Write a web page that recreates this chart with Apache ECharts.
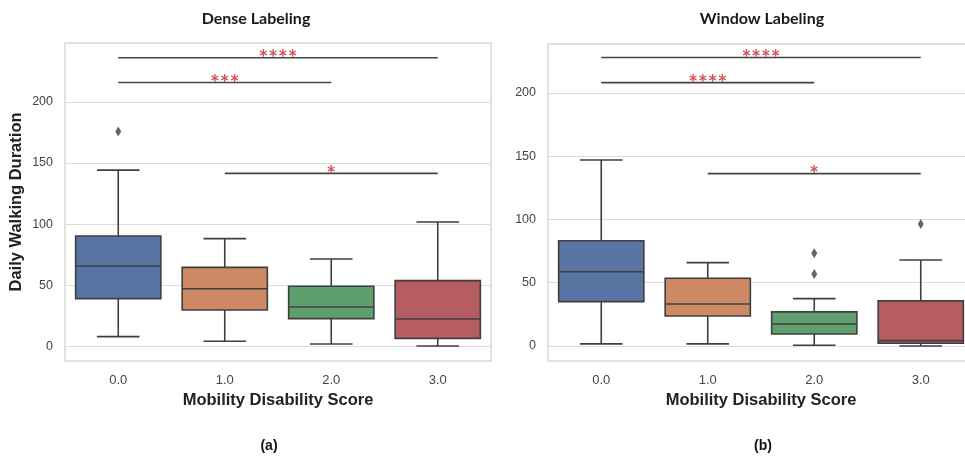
<!DOCTYPE html>
<html><head><meta charset="utf-8">
<script src="https://cdn.jsdelivr.net/npm/echarts@6/dist/echarts.min.js"></script>
<style>html,body{margin:0;padding:0;background:#fff;overflow:hidden}#c{width:980px;height:456px}</style>
</head><body><div id="c"></div>
<script>
const categories = ['0.0', '1.0', '2.0', '3.0'];
// [min, Q1, median, Q3, max]
const denseBoxes = [[8.2, 39.2, 65.9, 90.4, 144.2], [4.4, 30, 47.3, 64.8, 88.2], [2.2, 22.9, 32.4, 49.3, 71.6], [0.6, 6.8, 22.6, 53.9, 101.8]];
const denseOutliers = [[0, 175.8]];
const windowBoxes = [[1.6, 35, 58.7, 83.2, 147], [1.6, 23.7, 33.2, 53.5, 65.9], [0.5, 9.5, 17.4, 26.9, 37.4], [0, 2.1, 4.2, 35.6, 68]];
const windowOutliers = [[2, 73.3], [2, 56.9], [3, 96.4]];
// [from, to, y, stars]
const denseSig = [[0, 3, 236, '****'], [0, 2, 215.8, '***'], [1, 3, 141.5, '*']];
const windowSig = [[0, 3, 228, '****'], [0, 2, 208.2, '****'], [1, 3, 136.2, '*']];
const yTicksShown = [0, 50, 100, 150, 200];

const boxColors = ['#5875a4', '#cc8963', '#5f9e6e', '#b55d60'];
const edge = '#3f3f3f';
const sans = "'Liberation Sans', Arial, sans-serif";
const humanist = "Lato, 'Open Sans', sans-serif";

function boxSeries(boxes, idx) {
  return {
    type: 'custom', xAxisIndex: idx, yAxisIndex: idx,
    data: boxes.map((b, i) => [i].concat(b)),
    encode: { x: 0, y: [1, 2, 3, 4, 5] },
    renderItem: function (params, api) {
      const i = api.value(0);
      const band = api.size([1, 0])[0];
      const bw = band * 0.8, cw = bw / 2;
      const pMin = api.coord([i, api.value(1)]);
      const pQ1 = api.coord([i, api.value(2)]);
      const pMed = api.coord([i, api.value(3)]);
      const pQ3 = api.coord([i, api.value(4)]);
      const pMax = api.coord([i, api.value(5)]);
      const x = pMed[0];
      const ls = { stroke: edge, lineWidth: 1.6 };
      return {
        type: 'group', children: [
          { type: 'line', shape: { x1: x, y1: pQ3[1], x2: x, y2: pMax[1] }, style: ls },
          { type: 'line', shape: { x1: x, y1: pQ1[1], x2: x, y2: pMin[1] }, style: ls },
          { type: 'line', shape: { x1: x - cw / 2, y1: pMax[1], x2: x + cw / 2, y2: pMax[1] }, style: ls },
          { type: 'line', shape: { x1: x - cw / 2, y1: pMin[1], x2: x + cw / 2, y2: pMin[1] }, style: ls },
          { type: 'rect', shape: { x: x - bw / 2, y: pQ3[1], width: bw, height: pQ1[1] - pQ3[1] }, style: { fill: boxColors[i], stroke: edge, lineWidth: 1.6 } },
          { type: 'line', shape: { x1: x - bw / 2, y1: pMed[1], x2: x + bw / 2, y2: pMed[1] }, style: ls }
        ]
      };
    }
  };
}

function sigSeries(sig, idx) {
  return {
    type: 'custom', xAxisIndex: idx, yAxisIndex: idx, z: 5,
    data: sig.map(s => [s[0], s[1], s[2]]),
    encode: { x: [0, 1], y: 2 },
    renderItem: function (params, api) {
      const a = api.coord([api.value(0), api.value(2)]);
      const b = api.coord([api.value(1), api.value(2)]);
      const txt = sig[params.dataIndex][3];
      return {
        type: 'group', children: [
          { type: 'line', shape: { x1: a[0], y1: a[1], x2: b[0], y2: b[1] }, style: { stroke: '#444', lineWidth: 1.6 } },
          { type: 'text', style: { text: txt, x: (a[0] + b[0]) / 2, y: a[1] + 1, textAlign: 'center', textVerticalAlign: 'middle', fill: '#d0545a', font: 'bold 23px ' + humanist } }
        ]
      };
    }
  };
}

function outlierSeries(data, idx) {
  return {
    type: 'scatter', xAxisIndex: idx, yAxisIndex: idx, data: data,
    symbol: 'diamond', symbolSize: [6, 10], itemStyle: { color: edge }, z: 4
  };
}

const grids = [
  { left: 65, top: 43, width: 426, height: 318 },
  { left: 548, top: 44, width: 426, height: 317 }
];
const yRanges = [[-11.7, 248], [-11.9, 238.7]];

const option = {
  animation: false,
  grid: grids.map(g => Object.assign({ show: true, borderColor: '#d9d9d9', borderWidth: 1.5, backgroundColor: '#fff' }, g)),
  xAxis: [0, 1].map(i => ({
    type: 'category', gridIndex: i, data: categories,
    axisLine: { show: false }, axisTick: { show: false },
    axisLabel: { color: '#444', fontFamily: sans, fontSize: 13, margin: 13 },
    name: 'Mobility Disability Score', nameLocation: 'middle', nameGap: 27,
    nameTextStyle: { color: '#222', fontFamily: sans, fontWeight: 'bold', fontSize: 16.5 }
  })),
  yAxis: [0, 1].map(i => ({
    type: 'value', gridIndex: i, min: yRanges[i][0], max: yRanges[i][1],
    minInterval: 50, maxInterval: 50, splitNumber: 5,
    axisLine: { show: false }, axisTick: { show: false },
    axisLabel: {
      color: '#444', fontFamily: sans, fontSize: 12.5, margin: 12,
      formatter: v => (yTicksShown.indexOf(Math.round(v * 1000) / 1000) >= 0 ? String(v) : '')
    },
    splitLine: { lineStyle: { color: '#dcdcdc', width: 1.2 } },
    name: i === 0 ? 'Daily Walking Duration' : '', nameLocation: 'middle', nameGap: 40,
    nameTextStyle: { color: '#222', fontFamily: sans, fontWeight: 'bold', fontSize: 16.5 }
  })),
  series: [
    boxSeries(denseBoxes, 0), outlierSeries(denseOutliers, 0), sigSeries(denseSig, 0),
    boxSeries(windowBoxes, 1), outlierSeries(windowOutliers, 1), sigSeries(windowSig, 1)
  ],
  graphic: [
    { type: 'text', x: 256, y: 19, style: { text: 'Dense Labeling', textAlign: 'center', textVerticalAlign: 'middle', fill: '#1a1a1a', font: 'bold 16px ' + humanist } },
    { type: 'text', x: 762, y: 19, style: { text: 'Window Labeling', textAlign: 'center', textVerticalAlign: 'middle', fill: '#1a1a1a', font: 'bold 16px ' + humanist } },
    { type: 'text', x: 269, y: 446, style: { text: '(a)', textAlign: 'center', textVerticalAlign: 'middle', fill: '#111', font: 'bold 14px ' + sans } },
    { type: 'text', x: 763, y: 446, style: { text: '(b)', textAlign: 'center', textVerticalAlign: 'middle', fill: '#111', font: 'bold 14px ' + sans } }
  ]
};
echarts.init(document.getElementById('c')).setOption(option);
</script></body></html>
